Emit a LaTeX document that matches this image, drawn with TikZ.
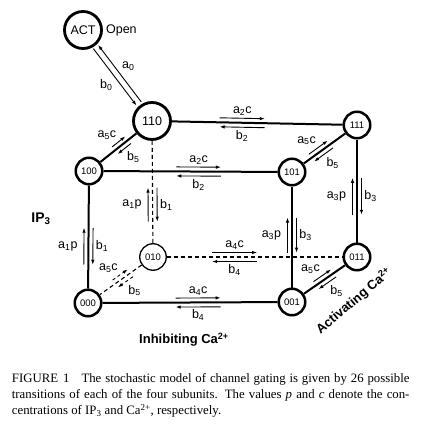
\documentclass[tikz,border=0pt]{standalone}
\usepackage{fontspec}
\setmainfont{Liberation Sans}
\newfontfamily\capfont{Liberation Serif}
\usetikzlibrary{calc,positioning,arrows.meta}

\tikzset{
  state/.style={circle, draw, line width=2.5pt, minimum size=26.5pt, inner sep=0pt,
    font=\fontsize{9.5}{11}\selectfont},
  bigstate/.style={state, line width=2.8pt, minimum size=37pt, font=\fontsize{12.5}{14}\selectfont},
  link/.style={line width=2pt},
  dlink/.style={line width=1.1pt, dash pattern=on 4pt off 3pt},
  rate/.style={line width=0.9pt, -{Latex[length=5pt,width=3.5pt]}},
  lbl/.style={font=\fontsize{12.5}{14}\selectfont, inner sep=2pt},
  side/.style={font=\bfseries\fontsize{13}{16}\selectfont}
}

\begin{document}
\begin{tikzpicture}[x=1pt,y=-1pt]
    \useasboundingbox (0,0) rectangle (442,436);

    \node[bigstate] (act) at (83,30) {ACT};
    \node[lbl, right=1pt of act] (open) {Open};
    \node[bigstate] (s110) at (152,121) {110};
    \node[state] (s111) at (357,125) {111};
    \node[state] (s100) at (89,171) {100};
    \node[state] (s101) at (292,172) {101};
    \node[state, line width=1.3pt] (s010) at (153,257) {010};
    \node[state] (s011) at (357,257) {011};
    \node[state] (s000) at (88,303) {000};
    \node[state] (s001) at (292,302) {001};

    \foreach \na/\nb in {s110/s111, s110/s100, s100/s101, s111/s101, s111/s011,
                         s101/s001, s100/s000, s000/s001, s011/s001}
        \draw[link] (\na) -- (\nb);
    \foreach \na/\nb in {s110/s010, s010/s011, s010/s000}
        \draw[dlink] (\na) -- (\nb);

    \draw[rate] ($(s110)!.19!(act)!3pt!-90:(act)$) -- ($(s110)!.815!(act)!3pt!-90:(act)$)
        node[lbl, midway, anchor=south west] {a\textsubscript{0}};
    \draw[rate] ($(act)!.185!(s110)!3pt!-90:(s110)$) -- ($(act)!.81!(s110)!3pt!-90:(s110)$)
        node[lbl, midway, anchor=north east] {b\textsubscript{0}};

    \coordinate (u1) at ($(s100)!.41!(s110)!4.5pt!90:(s110)$);
    \coordinate (u2) at ($(s100)!.62!(s110)!4.5pt!90:(s110)$);
    \coordinate (v1) at ($(s100)!.62!(s110)!4.5pt!-90:(s110)$);
    \coordinate (v2) at ($(s100)!.41!(s110)!4.5pt!-90:(s110)$);
    \draw[rate] (u1) -- (u2) node[lbl, midway, anchor=south east] {a\textsubscript{5}c};
    \draw[rate] (v1) -- (v2) node[lbl, midway, anchor=north west, inner sep=2.5pt] {b\textsubscript{5}};

    \foreach \na/\nb/\ps/\pe/\dsh/\la/\ancA/\ga/\lb/\ancB in {
        s110/s111/.33/.55/solid/a\textsubscript{2}c/south/2.5pt/b\textsubscript{2}/north,
        s100/s101/.43/.65/solid/a\textsubscript{2}c/south/2.5pt/b\textsubscript{2}/north,
        s000/s001/.43/.65/solid/a\textsubscript{4}c/south/2.5pt/b\textsubscript{4}/north,
        s010/s011/.29/.51/solid/a\textsubscript{4}c/south/2.5pt/b\textsubscript{4}/north,
        s000/s100/.29/.57/solid/a\textsubscript{1}p/east/6pt/b\textsubscript{1}/west,
        s010/s110/.26/.51/solid/a\textsubscript{1}p/east/6pt/b\textsubscript{1}/west,
        s001/s101/.38/.65/solid/a\textsubscript{3}p/east/6pt/b\textsubscript{3}/west,
        s011/s111/.32/.60/solid/a\textsubscript{3}p/east/6pt/b\textsubscript{3}/west,
        s101/s111/.30/.59/solid/a\textsubscript{5}c/south east/2pt/b\textsubscript{5}/north west,
        s001/s011/.37/.64/solid/a\textsubscript{5}c/south east/2pt/b\textsubscript{5}/north west,
        s000/s010/.42/.65/dashed/a\textsubscript{5}c/south east/2pt/b\textsubscript{5}/north west}
    {
        \draw[rate,\dsh] ($(\na)!\ps!(\nb)!4.5pt!90:(\nb)$) -- ($(\na)!\pe!(\nb)!4.5pt!90:(\nb)$)
            node[lbl, midway, anchor=\ancA, inner sep=\ga] {\la};
        \draw[rate,\dsh] ($(\na)!\pe!(\nb)!4.5pt!-90:(\nb)$) -- ($(\na)!\ps!(\nb)!4.5pt!-90:(\nb)$)
            node[lbl, midway, anchor=\ancB, inner sep=2.5pt] {\lb};
    }

    \node[side, font=\bfseries\fontsize{14}{16}\selectfont] (ip) at (41,219) {IP\textsubscript{3}};
    \node[side] (inh) at (184,340) {Inhibiting Ca\textsuperscript{2+}};
    \node[side, rotate=40] (actv) at (354,301) {Activating Ca\textsuperscript{2+}};

    \node[anchor=north west, inner sep=0pt, text width=397.6pt, align=justify,
          font=\capfont\fontsize{12.8}{16.3}\selectfont] (cap) at (11.7,373)
        {FIGURE\hspace{5pt}1\hspace{12pt}The stochastic model of channel gating is given by 26 possible\linebreak
         transitions of each of the four subunits. The values \textit{p} and \textit{c} denote the con-\linebreak
         centrations of IP\textsubscript{3} and Ca\textsuperscript{2+}, respectively.};
\end{tikzpicture}
\end{document}
